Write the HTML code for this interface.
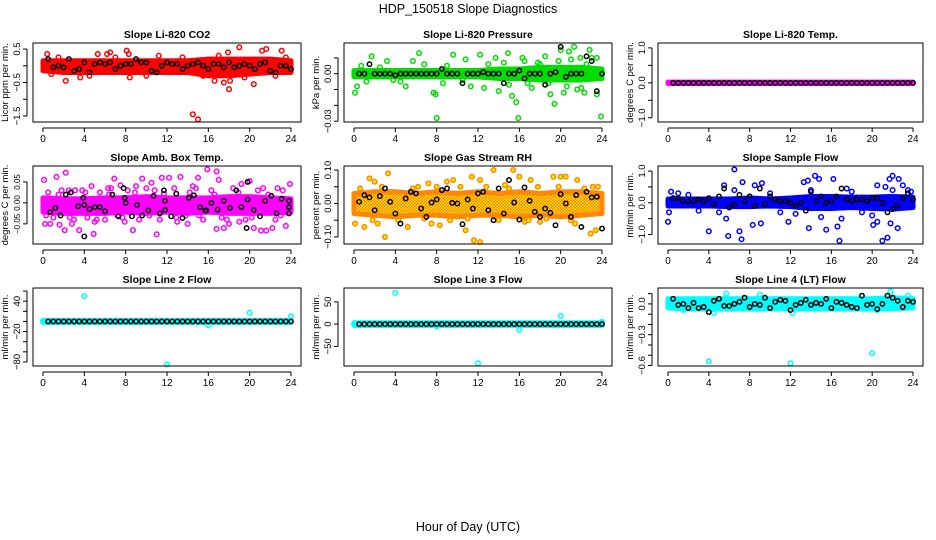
<!DOCTYPE html>
<html><head><meta charset="utf-8"><style>
body{margin:0;background:#fff}
svg{display:block;font-family:"Liberation Sans",sans-serif}
</style></head><body>
<svg id="chart" width="936" height="540" viewBox="0 0 936 540">
<text x="468" y="13" text-anchor="middle" font-size="12.5">HDP_150518  Slope Diagnostics</text>
<text x="468" y="531" text-anchor="middle" font-size="12.5">Hour of Day (UTC)</text>
</svg>
<script>
const blackT = [0.5,1,1.5,2,2.5,3,3.5,4,4.5,5,5.5,6,6.5,7,7.5,8,8.5,9,9.5,10,10.5,11,11.5,12,12.5,13,13.5,14,14.5,15,15.5,16,16.5,17,17.5,18,18.5,19,19.5,20,20.5,21,21.5,22,22.5,23,23.5,24];
const bandT = [0,2,4,6,8,10,12,14,16,18,20,22,24];
const xTicks = [0,4,8,12,16,20,24];

const p1Hi = [0.15,0.15,0.15,0.15,0.15,0.15,0.15,0.15,0.2,0.2,0.2,0.2,0.15];
const p1Lo = [-0.15,-0.2,-0.2,-0.2,-0.2,-0.2,-0.2,-0.2,-0.3,-0.3,-0.25,-0.2,-0.2];
const p1OX = [0.4,0.8,2.2,3.6,5.3,6.2,6.5,8.1,8.3,8.4,14.5,15,16.6,17.5,17.9,18,18.1,19,20.4,21.2,21.6,23.1,11.2,12.5,1.5,4.5,7,10,13.5,15.5,17,19.5,22.5,23.5];
const p1OY = [0.35,-0.25,-0.45,-0.35,0.35,0.35,0.4,0.45,0.35,-0.35,-1.45,-1.6,-0.45,-0.5,0.4,-0.7,-0.45,0.55,-0.55,0.45,0.5,0.45,0.3,-0.1,0.25,-0.3,0.25,-0.3,0.25,-0.3,0.3,-0.35,-0.3,0.25];
const p1B = [0.2,-0.05,0,-0.05,0.2,-0.15,-0.1,0.1,-0.2,0.05,0.1,0.05,0.1,-0.1,0,0.05,0.05,0.2,0.1,0.1,-0.15,-0.2,0,0.1,0.05,0.05,-0.1,0,0.05,0.1,0,-0.1,0.05,0.05,-0.05,0.1,-0.05,0,0.05,0,-0.1,0.05,0.1,-0.15,-0.2,0,0,-0.1];

const p2Hi = [0.002,0.002,0.002,0.002,0.002,0.002,0.002,0.003,0.003,0.004,0.004,0.004,0.003];
const p2Lo = [-0.002,-0.002,-0.002,-0.002,-0.002,-0.002,-0.002,-0.003,-0.003,-0.004,-0.004,-0.004,-0.003];
const p2OX = [0.1,0.3,1.7,3.2,5,5.7,6.3,7.7,7.9,8,9.6,10.8,11.3,12.2,12.6,13.7,14,14.9,15.3,15.7,15.9,16.3,17.2,18.5,19,19.4,20,20.3,20.8,21.3,21.6,22.3,22.8,23.5,23.9,23.5,21,18,0.7,2.5,4.5,6.8,9,10.5,13,14.5,16.8,17.8,19.8,20.6,21.9,22.5,15,16.5,18.8,22,23,1.2,3.8,8.6];
const p2OY = [-0.012,-0.008,0.011,0.008,-0.008,0.008,0.013,-0.012,-0.013,-0.028,0.012,0.009,-0.008,0.012,-0.009,0.01,-0.011,0.013,-0.014,-0.018,-0.028,0.01,-0.009,0.011,-0.013,-0.019,0.015,-0.012,0.014,0.017,-0.01,-0.012,0.015,-0.013,-0.027,0.01,0.009,0.006,0.005,0.004,-0.005,0.006,0.005,-0.004,0.006,0.007,-0.006,0.007,0.008,-0.008,0.01,0.006,-0.007,0.008,-0.006,-0.009,0.01,-0.005,-0.004,-0.006,0.005];
const p2B = [0,0,0.006,0,0,0,0,-0.001,0,0,0,0,0,0,0,0,0.003,0,0,0,-0.006,0,0,0,0.001,0,0,0,-0.006,0,0,0.002,-0.003,0,0,0,-0.007,0,0.001,0.017,-0.002,0,0,0,0.011,0.008,-0.011,0];

const p3Hi = [0.02,0.02,0.02,0.02,0.02,0.02,0.02,0.02,0.02,0.02,0.02,0.02,0.02];
const p3Lo = [-0.02,-0.02,-0.02,-0.02,-0.02,-0.02,-0.02,-0.02,-0.02,-0.02,-0.02,-0.02,-0.02];
const p3OX = [];
const p3OY = [];
const p3B = [0,0,0,0,0,0,0,0,0,0,0,0,0,0,0,0,0,0,0,0,0,0,0,0,0,0,0,0,0,0,0,0,0,0,0,0,0,0,0,0,0,0,0,0,0,0,0,0];

const p4Hi = [0.012,0.01,0.01,0.012,0.012,0.015,0.012,0.012,0.012,0.015,0.015,0.012,0.01];
const p4Lo = [-0.022,-0.025,-0.025,-0.025,-0.022,-0.025,-0.022,-0.025,-0.022,-0.025,-0.025,-0.025,-0.022];
const p4OX = [0.1,1.3,2.2,1.8,0.2,0.7,1.6,2.1,2.8,3.5,4.9,3.1,4.7,6.3,6.9,7.5,8.7,9.6,10.5,11,11.5,12.2,13.3,14,15,15.9,16.8,17,16.8,17.5,19.2,20,20.4,21.1,21.6,22.2,22.7,23.5,23.9,9,13,18,5,7.9,14.5,19,0.5,1,2.5,3,3.8,4.3,5.5,6,6.6,7.2,8.2,9.3,10,10.8,11.3,12.7,13.8,14.8,15.5,16.3,17.3,18.4,19.6,20.8,21.3,22.5,23.2,0.3,1.5,2.6,4.1,5.2,6.4,7.7,8.9,10.3,11.7,12.9,14.2,15.1,16.6,17.8,18.9,20.2,21.8,23];
const p4OY = [0.055,0.062,0.072,0.03,-0.05,-0.05,-0.052,-0.065,-0.05,-0.065,-0.074,0.03,0.04,0.035,0.058,0.042,-0.065,0.058,0.048,-0.075,0.06,0.06,0.062,-0.05,0.06,0.08,0.075,0.055,-0.062,-0.06,0.045,0.052,-0.06,-0.066,-0.066,-0.06,0.035,-0.055,0.045,0.04,-0.045,-0.05,-0.045,-0.045,0.04,-0.045,0.025,-0.035,0.03,-0.04,0.03,-0.035,0.025,-0.04,0.035,-0.03,0.03,-0.04,0.035,0.03,-0.04,0.035,-0.03,0.035,-0.04,0.03,-0.035,0.035,-0.04,0.03,0.035,-0.04,0.03,-0.03,0.02,-0.035,0.025,-0.04,0.02,-0.035,0.025,-0.03,0.022,-0.035,0.025,-0.03,0.02,-0.04,0.025,-0.035,0.02,-0.03];
const p4BX = [0.7,1.2,1.7,2.2,2.7,3.4,3.9,4,4,4.5,5,5.5,6,6.7,7.3,7.8,7.9,8,8.6,9.1,9.6,10.2,10.7,11.3,11.7,11.8,11.8,12.4,12.9,13.5,14.1,14.6,15.2,15.7,15.8,16.3,16.9,17.5,18.1,18.7,19.2,19.8,19.8,19.7,20.4,21,21.5,22.1,22.6,23.1,23.8,23.8,23.8];
const p4BY = [-0.022,-0.012,-0.03,0.02,0.025,-0.008,0.012,-0.005,-0.08,-0.015,-0.01,-0.01,-0.02,0.02,-0.032,0.035,0.012,0,-0.032,-0.005,-0.03,-0.018,0.017,-0.025,0.03,-0.017,0.005,-0.032,0.022,-0.036,0.012,0.018,-0.01,-0.018,-0.018,0,-0.016,0.005,-0.012,0.03,-0.01,0.05,0.008,-0.06,-0.017,-0.032,0.005,0.017,-0.025,0.01,0.005,-0.01,-0.025];

const p5Hi = [0.03,0.035,0.035,0.03,0.035,0.03,0.035,0.03,0.035,0.03,0.035,0.035,0.03];
const p5Lo = [-0.03,-0.035,-0.04,-0.035,-0.035,-0.04,-0.035,-0.035,-0.04,-0.035,-0.04,-0.035,-0.03];
const p5OX = [0.1,1,1.5,2,3,3.3,2.3,5.2,6.2,7.2,7.5,8.3,9,9.6,10.8,11.4,11.6,12.2,12.2,13.5,14.6,15.4,16,17.1,16.5,18,19.3,20,20.5,21.6,21.4,22.9,23.4,23.6,0.6,1.8,2.7,4.3,5.7,6.8,8,9.3,10.3,11,12.8,14,15,16.9,17.8,18.6,19.8,21,22.3,23.1];
const p5OY = [-0.06,-0.07,0.075,0.065,-0.1,0.09,-0.06,-0.07,0.05,0.06,-0.06,-0.065,0.065,0.07,-0.08,0.08,-0.11,-0.115,0.07,0.1,0.055,0.1,0.08,0.07,-0.055,-0.055,0.08,0.08,0.08,0.07,-0.06,-0.09,-0.08,0.05,0.045,-0.05,0.05,-0.05,0.045,-0.045,0.05,-0.05,0.05,-0.045,0.05,-0.05,0.045,-0.05,0.05,-0.045,0.05,-0.05,0.045,0.05];
const p5B = [0.005,0.025,0.018,-0.02,0.022,0.045,0.005,-0.03,-0.06,0.015,0.035,0.03,-0.015,-0.04,0.003,0.012,0.04,0.045,0.002,0,-0.062,0.012,-0.015,0.03,0.035,-0.02,-0.05,0.045,-0.03,0.07,0.003,-0.048,0.048,0.008,-0.025,-0.04,-0.015,-0.028,-0.065,0.028,0,-0.04,0.025,-0.07,0.035,0.018,0.02,-0.075];

const p6Hi = [0.12,0.12,0.12,0.12,0.15,0.12,0.15,0.2,0.2,0.18,0.18,0.2,0.18];
const p6Lo = [-0.1,-0.1,-0.1,-0.12,-0.12,-0.1,-0.12,-0.18,-0.18,-0.15,-0.18,-0.2,-0.15];
const p6OX = [0,0.1,0.3,2,4,5.5,5.7,5.9,6.5,6.5,7,7.2,7.3,8.3,8.5,9.2,9.1,11.8,13.3,13.7,13.8,14.4,14.8,15.5,16.2,16.6,16.8,17,20,20.1,20.5,21,21.3,21.5,21.7,22,22.5,22.6,23,22,23.5,18,20.5,21.8,1,3,5,10,11,12.5,14,15,17.5,19,23.8];
const p6OY = [-0.6,-0.3,0.35,0.25,-0.9,0.55,-0.5,-1.05,1.05,0.4,-0.9,-1.15,0.65,-0.7,0.55,0.62,-0.65,-0.6,0.65,0.7,-0.8,0.85,0.75,-0.85,0.75,-0.75,-1.2,-0.5,-0.4,-0.7,0.55,-1.2,0.5,-1.1,0.75,0.85,-0.8,0.75,0.55,0.4,0.4,0.35,-0.6,-0.65,0.3,-0.25,-0.3,0.3,-0.3,-0.35,0.4,-0.45,0.45,-0.3,0.35];
const p6B = [0.15,0.15,0.05,0.05,0.05,0.1,0.05,0.15,-0.05,0.2,0.45,-0.15,-0.05,0.25,0.05,0.2,-0.1,0.45,-0.05,0.2,0.1,0.05,0.05,0,-0.1,0,-0.25,0.35,0.05,0.2,0,0.05,0.2,0.45,0.1,0.05,0.1,0.1,0.05,0.15,0.15,0,-0.3,-0.2,-0.1,0.15,0.3,0.1];

const p7Hi = [2,2,2,2,2,2,2,2,2,2,2,2,2];
const p7Lo = [-2,-2,-2,-2,-2,-2,-2,-2,-2,-2,-2,-2,-2];
const p7OX = [0,4,12,16,20,24];
const p7OY = [0,50,-85,-8,17,10];
const p7B = [0,0,0,0,0,0,0,0,0,0,0,0,0,0,0,0,0,0,0,0,0,0,0,0,0,0,0,0,0,0,0,0,0,0,0,0,0,0,0,0,0,0,0,0,0,0,0,0];

const p8Hi = [3,3,3,3,3,3,3,3,3,3,3,3,3];
const p8Lo = [-3,-3,-3,-3,-3,-3,-3,-3,-3,-3,-3,-3,-3];
const p8OX = [0,4,8,12,16,20,24];
const p8OY = [0,70,-5,-88,-13,18,5];
const p8B = [0,0,0,0,0,0,0,0,0,0,0,0,0,0,0,0,0,0,0,0,0,0,0,0,0,0,0,0,0,0,0,0,0,0,0,0,0,0,0,0,0,0,0,0,0,0,0,0];

const p9Hi = [0.05,0.05,0.05,0.05,0.05,0.05,0.05,0.05,0.05,0.05,0.05,0.06,0.05];
const p9Lo = [-0.04,-0.05,-0.05,-0.05,-0.05,-0.05,-0.05,-0.05,-0.05,-0.05,-0.05,-0.05,-0.04];
const p9OX = [4,12,20,5.7,21.8,4.5,12.2,9,23.5,1.5,20.5];
const p9OY = [-0.56,-0.58,-0.48,0.1,0.12,-0.09,-0.09,0.09,0.08,-0.06,-0.06];
const p9B = [0.05,-0.01,0,-0.04,0.01,-0.04,-0.03,-0.08,0.03,0.05,-0.02,-0.02,0,0.02,0.06,-0.03,0,-0.01,0.06,-0.04,0.02,0.04,0.03,-0.06,-0.01,0.01,0.04,-0.01,0.01,0,0.05,-0.04,0.02,0.01,-0.01,-0.03,-0.04,0.08,-0.01,0,-0.05,0,0.08,0.06,0.03,-0.03,0.03,0.02];

const svg = document.getElementById('chart');
const NS = 'http://www.w3.org/2000/svg';
function mk(tag, attrs, parent){const e=document.createElementNS(NS,tag);for(const k in attrs)e.setAttribute(k,attrs[k]);(parent||svg).appendChild(e);return e;}

const cols = [{L:33,R:301},{L:344,R:612},{L:658,R:923}];
const rows = [{T:43,B:122},{T:166,B:244},{T:288,B:366}];

const panels = [
 {name:'co2',title:'Slope Li-820 CO2',ylab:'Licor ppm per min.',col:'#ff0000',ymin:-1.68,ymax:0.68,ticks:[0.5,0,-0.5,-1,-1.5],labs:[[0.5,'0.5'],[-0.5,'-0.5'],[-1.5,'-1.5']],hi:p1Hi,lo:p1Lo,ox:p1OX,oy:p1OY,bx:blackT,by:p1B},
 {name:'pressure',title:'Slope Li-820 Pressure',ylab:'kPa per min.',col:'#00dd00',ymin:-0.0305,ymax:0.0194,ticks:[0.01,0,-0.01,-0.02,-0.03],labs:[[0,'0.00'],[-0.03,'-0.03']],hi:p2Hi,lo:p2Lo,ox:p2OX,oy:p2OY,bx:blackT,by:p2B},
 {name:'li820-temp',title:'Slope Li-820 Temp.',ylab:'degrees C per min.',col:'#ff00ff',ymin:-1.12,ymax:1.14,ticks:[1,0.5,0,-0.5,-1],labs:[[1,'1.0'],[0,'0.0'],[-1,'-1.0']],hi:p3Hi,lo:p3Lo,ox:p3OX,oy:p3OY,bx:blackT,by:p3B},
 {name:'amb-box-temp',title:'Slope Amb. Box Temp.',ylab:'degrees C per min.',col:'#ff00ff',ymin:-0.098,ymax:0.088,ticks:[0.05,0,-0.05],labs:[[0.05,'0.05'],[0,'0.00'],[-0.05,'-0.05']],hi:p4Hi,lo:p4Lo,ox:p4OX,oy:p4OY,bx:p4BX,by:p4BY,small:true},
 {name:'gas-rh',title:'Slope Gas Stream RH',ylab:'percent per min.',col:'#ffaa00',ymin:-0.121,ymax:0.112,ticks:[0.1,0.05,0,-0.05,-0.1],labs:[[0.1,'0.10'],[0,'0.00'],[-0.1,'-0.10']],hi:p5Hi,lo:p5Lo,ox:p5OX,oy:p5OY,bx:blackT,by:p5B,rh:true},
 {name:'sample-flow',title:'Slope Sample Flow',ylab:'ml/min per min.',col:'#0000ff',ymin:-1.3,ymax:1.16,ticks:[1,0.5,0,-0.5,-1],labs:[[1,'1.0'],[0,'0.0'],[-1,'-1.0']],hi:p6Hi,lo:p6Lo,ox:p6OX,oy:p6OY,bx:blackT,by:p6B},
 {name:'line2-flow',title:'Slope Line 2 Flow',ylab:'ml/min per min.',col:'#00ffff',ymin:-88,ymax:66,ticks:[60,40,20,0,-20,-40,-60,-80],labs:[[40,'40'],[-20,'-20'],[-80,'-80']],hi:p7Hi,lo:p7Lo,ox:p7OX,oy:p7OY,bx:blackT,by:p7B},
 {name:'line3-flow',title:'Slope Line 3 Flow',ylab:'ml/min per min.',col:'#00ffff',ymin:-94,ymax:81,ticks:[50,0,-50],labs:[[50,'50'],[0,'0'],[-50,'-50']],hi:p8Hi,lo:p8Lo,ox:p8OX,oy:p8OY,bx:blackT,by:p8B},
 {name:'line4-flow',title:'Slope Line 4 (LT) Flow',ylab:'ml/min per min.',col:'#00ffff',ymin:-0.605,ymax:0.155,ticks:[0.1,0,-0.1,-0.2,-0.3,-0.4,-0.5,-0.6],labs:[[0,'0.0'],[-0.3,'-0.3'],[-0.6,'-0.6']],hi:p9Hi,lo:p9Lo,ox:p9OX,oy:p9OY,bx:blackT,by:p9B}
];

const defs = mk('defs',{});
const pat = mk('pattern',{id:'rhpat',width:3,height:3,patternUnits:'userSpaceOnUse'},defs);
mk('rect',{width:3,height:3,fill:'#ff7700'},pat);
mk('rect',{x:0,y:0,width:1.5,height:1.5,fill:'#ffee00'},pat);
mk('rect',{x:1.5,y:1.5,width:1.5,height:1.5,fill:'#ffee00'},pat);

panels.forEach((p,i)=>{
  const c=cols[i%3], r=rows[Math.floor(i/3)];
  const x0=c.L+10, x1=c.R-10;
  const sx=h=>x0+(h/24)*(x1-x0);
  const sy=v=>r.B-(v-p.ymin)/(p.ymax-p.ymin)*(r.B-r.T);
  const g=mk('g',{});
  
  
  const t=mk('text',{x:(c.L+c.R)/2,y:r.T-5,'text-anchor':'middle','font-size':10.5,'font-weight':'bold'},g);
  t.textContent=p.title;
  
  
  let pts=[];
  p.hi.forEach((v,k)=>pts.push(sx(bandT[k])+','+sy(v)));
  for(let k=p.lo.length-1;k>=0;k--)pts.push(sx(bandT[k])+','+sy(p.lo[k]));
  const band=mk('polygon',{points:pts.join(' '),fill:p.rh?'url(#rhpat)':p.col,stroke:p.rh?'#ff8800':p.col,'stroke-width':5,'stroke-linejoin':'round'},g);
  
  
  p.ox.forEach((h,k)=>{
    const e=mk('circle',{cx:sx(h),cy:sy(p.oy[k]),r:2.3,fill:p.rh?'#ffee00':'none',stroke:p.rh?'#ff8800':p.col,'stroke-width':1.5},g);
    
    
  });
  p.bx.forEach((h,k)=>{
    const e=mk('circle',{cx:sx(h),cy:sy(p.by[k]),r:2.2,fill:'none',stroke:'#000','stroke-width':1.5},g);
    
    
  });
  const box=mk('rect',{x:c.L,y:r.T,width:c.R-c.L,height:r.B-r.T,fill:'none',stroke:'#000','stroke-width':1},g);
  
  
  mk('line',{x1:sx(0),x2:sx(24),y1:r.B+6,y2:r.B+6,stroke:'#000'},g);
  xTicks.forEach(h=>{
    mk('line',{x1:sx(h),x2:sx(h),y1:r.B+6,y2:r.B+10,stroke:'#000'},g);
    const tl=mk('text',{x:sx(h),y:r.B+20,'text-anchor':'middle','font-size':10},g);
    tl.textContent=h;
    
    
  });
  const yt=p.ticks;
  mk('line',{x1:c.L-6,x2:c.L-6,y1:sy(yt[0]),y2:sy(yt[yt.length-1]),stroke:'#000'},g);
  yt.forEach(v=>mk('line',{x1:c.L-10,x2:c.L-6,y1:sy(v),y2:sy(v),stroke:'#000'},g));
  p.labs.forEach(([v,s])=>{
    const tx=c.L-13, ty=sy(v);
    const tl=mk('text',{x:tx,y:ty,'text-anchor':'middle','font-size':p.small?8:9.5,transform:`rotate(-90 ${tx} ${ty})`},g);
    tl.textContent=s.replace('-','\u2212');
    
    
  });
  const lx=c.L-25, ly=(r.T+r.B)/2;
  const yl=mk('text',{x:lx,y:ly,'text-anchor':'middle','font-size':9.5,transform:`rotate(-90 ${lx} ${ly})`},g);
  yl.textContent=p.ylab;
  
  
});
</script>
</body></html>
